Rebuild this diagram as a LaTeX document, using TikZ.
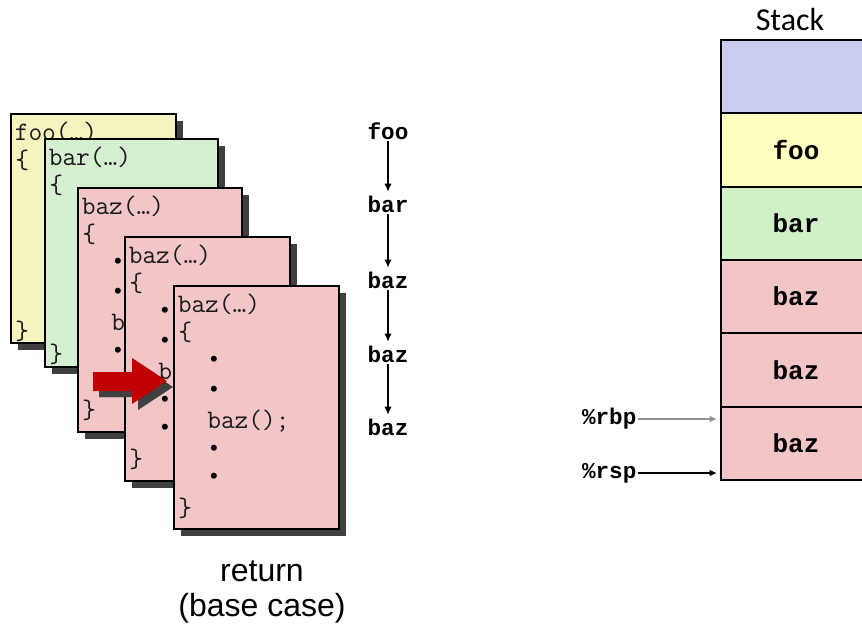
\documentclass[tikz,border=0pt]{standalone}
\usepackage{fontspec}
\setmainfont{Liberation Sans}
\newfontfamily\codefont{Latin Modern Mono}
\newfontfamily\dotfont{Liberation Mono}
\newfontfamily\boldmono{Liberation Mono}
\newfontfamily\stackfont{Carlito}
\usetikzlibrary{arrows.meta}
\definecolor{cardyellow}{HTML}{F5F3BF}
\definecolor{cardgreen}{HTML}{D5F0D0}
\definecolor{cardpink}{HTML}{F2C5C7}
\definecolor{shadowgray}{HTML}{404040}
\definecolor{codegray}{HTML}{1A1A1A}
\definecolor{arrowred}{HTML}{C00000}
\definecolor{stackblue}{HTML}{CBCCF2}
\definecolor{stackyellow}{HTML}{FFFFC0}
\definecolor{stackgreen}{HTML}{D0F0C8}
\definecolor{stackpink}{HTML}{F2C6C6}
\definecolor{ptrgraycol}{HTML}{909090}
\tikzset{
  cardshadow/.style={fill=shadowgray, draw=none},
  cardframe/.style={draw=black, line width=1.1pt},
  codetext/.style={font=\codefont\fontsize{20}{22}\selectfont, inner sep=0pt, anchor=base west, text=codegray},
  codedot/.style={font=\dotfont\fontsize{16.5}{18}\selectfont, inner sep=0pt, anchor=center, text=black},
  callname/.style={font=\boldmono\bfseries\fontsize{17}{18}\selectfont, inner sep=0pt, anchor=base, text height=10pt, text depth=0pt},
  callarrow/.style={-{Latex[length=6pt,width=5.5pt]}, line width=1.5pt, shorten <=1pt, shorten >=5pt},
  stackrow/.style={draw=black, line width=1.5pt, minimum width=112.5pt, minimum height=55pt, inner sep=0pt, font=\boldmono\bfseries\fontsize{19.5}{20}\selectfont},
  reglabel/.style={font=\boldmono\bfseries\fontsize{17}{18}\selectfont, inner sep=1pt, anchor=east},
  ptrarrow/.style={-{Latex[length=5.5pt,width=5pt]}, line width=1.5pt},
}
% frame, title, opening and closing brace of one card
\newcommand\codecard[8]{%
  \begin{scope}[shift={(#2,#3)}]
    \fill[cardshadow] (7,7) rectangle (#4+7,#5+7);
    \draw[cardframe, fill=#6] (0,0) rectangle (#4,#5);
    \node[codetext] (#1-title) at (3.5,26) {#7};
    \node[codetext] (#1-open) at (4,54) {\{};
    \node[codetext] (#1-close) at (4,#8) {\}};
  \end{scope}}
% body lines of one card
\newcommand\cardbody[4]{%
  \begin{scope}[shift={(#2,#3)}]
    \node[codedot] (#1-d1) at (40,75) {•};
    \node[codedot] (#1-d2) at (40,105) {•};
    \node[codetext] (#1-call) at (33,142) {#4};
    \node[codedot] (#1-d3) at (40,164) {•};
  \end{scope}}
\newcommand\cardtail[3]{%
  \begin{scope}[shift={(#2,#3)}]
    \node[codedot] (#1-d4) at (40,192) {•};
  \end{scope}}
\begin{document}
\begin{tikzpicture}[x=0.75pt,y=-0.75pt]
\useasboundingbox (0,0) rectangle (862,629);
\fill[white] (0,0) rectangle (862,629);
% code cards
\codecard{foo}{11}{114}{165}{229}{cardyellow}{foo(…)}{225}
\codecard{bar}{45}{139}{173}{228}{cardgreen}{bar(…)}{223}
\codecard{bazA}{78}{188}{164}{244}{cardpink}{baz(…)}{230}
\cardbody{bazA}{78}{188}{baz();}
% red arrow shadow
\fill[shadowgray] (99,378) -- (138,378) -- (138,364) -- (173,387) -- (138,410) -- (138,397) -- (99,397) -- cycle;
\codecard{bazB}{125}{237}{165}{244}{cardpink}{baz(…)}{230}
\cardbody{bazB}{125}{237}{baz();}
\cardtail{bazB}{125}{237}
% red arrow
\fill[shadowgray] (99,378) -- (138,378) -- (138,364) -- (173,387) -- (138,410) -- (138,397) -- (99,397) -- cycle;
\fill[arrowred] (93,372) -- (132,372) -- (132,358) -- (167,381) -- (132,404) -- (132,391) -- (93,391) -- cycle;
\codecard{bazC}{174}{286}{165}{243}{cardpink}{baz(…)}{230}
\cardbody{bazC}{174}{286}{baz();}
\cardtail{bazC}{174}{286}
% caption
\node[font=\fontsize{24}{26.5}\selectfont, align=center] (caption) at (262,592) {return\\(base case)};
% call chain
\node[callname] (c1) at (388,139) {foo};
\node[callname] (c2) at (388,212) {bar};
\node[callname] (c3) at (388,288) {baz};
\node[callname] (c4) at (388,362) {baz};
\node[callname] (c5) at (388,435) {baz};
\draw[callarrow] (c1.south) -- (c2.north);
\draw[callarrow] (c2.south) -- (c3.north);
\draw[callarrow] (c3.south) -- (c4.north);
\draw[callarrow] (c4.south) -- (c5.north);
% stack
\node[font=\stackfont\fontsize{24}{26}\selectfont] (stacktitle) at (790,20) {Stack};
\node[stackrow, fill=stackblue] (s0) at (796,76.67) {};
\node[stackrow, fill=stackyellow] (s1) at (796,150) {foo};
\node[stackrow, fill=stackgreen] (s2) at (796,223.33) {bar};
\node[stackrow, fill=stackpink] (s3) at (796,296.67) {baz};
\node[stackrow, fill=stackpink] (s4) at (796,370) {baz};
\node[stackrow, fill=stackpink] (s5) at (796,443.33) {baz};
% pointers
\node[reglabel] (rbp) at (638,419) {\%rbp};
\node[reglabel] (rsp) at (638,473) {\%rsp};
\coordinate (rbptip) at (717,419);
\coordinate (rsptip) at (717,473);
\draw[ptrarrow, draw=ptrgraycol, fill=ptrgraycol] (rbp.east) -- (rbptip);
\draw[ptrarrow] (rsp.east) -- (rsptip);
\end{tikzpicture}
\end{document}
